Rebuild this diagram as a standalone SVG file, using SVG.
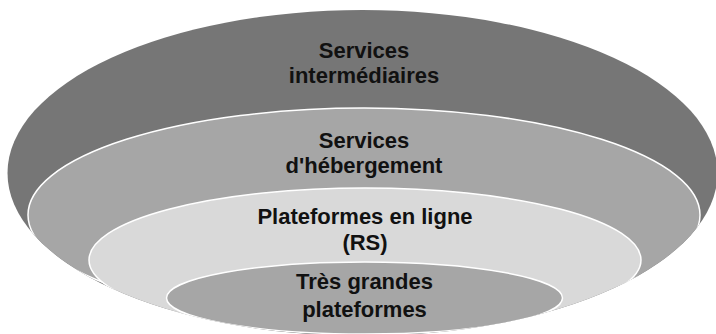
<svg xmlns="http://www.w3.org/2000/svg" width="716" height="334" viewBox="0 0 716 334">
  <style>
    .ring { stroke: #ffffff; stroke-width: 1.5; }
    .lbl { font-family: "Liberation Sans", Arial, sans-serif; font-weight: bold; font-size: 22px; fill: #111111; text-anchor: middle; }
  </style>
  <defs>
    <clipPath id="outerClip">
      <ellipse cx="362.5" cy="173" rx="355" ry="163"/>
    </clipPath>
  </defs>
  <rect width="716" height="334" fill="#ffffff"/>
  <g id="services-intermediaires">
    <ellipse cx="362.5" cy="173" rx="355" ry="163" fill="#767676"/>
    <text class="lbl" x="364" y="58">Services</text>
    <text class="lbl" x="364" y="83">intermédiaires</text>
  </g>
  <g clip-path="url(#outerClip)">
    <g id="services-hebergement">
      <ellipse class="ring" cx="364" cy="215" rx="336" ry="107" fill="#a6a6a6"/>
      <text class="lbl" x="364" y="148">Services</text>
      <text class="lbl" x="364" y="173">d'hébergement</text>
    </g>
    <g id="plateformes-en-ligne">
      <ellipse class="ring" cx="365" cy="260" rx="276" ry="72" fill="#d9d9d9"/>
      <text class="lbl" x="365" y="224">Plateformes en ligne</text>
      <text class="lbl" x="365" y="250">(RS)</text>
    </g>
    <g id="tres-grandes-plateformes">
      <ellipse class="ring" cx="364.5" cy="298" rx="198" ry="36" fill="#a6a6a6"/>
      <text class="lbl" x="364.5" y="289">Très grandes</text>
      <text class="lbl" x="364.5" y="317">plateformes</text>
    </g>
  </g>
</svg>
